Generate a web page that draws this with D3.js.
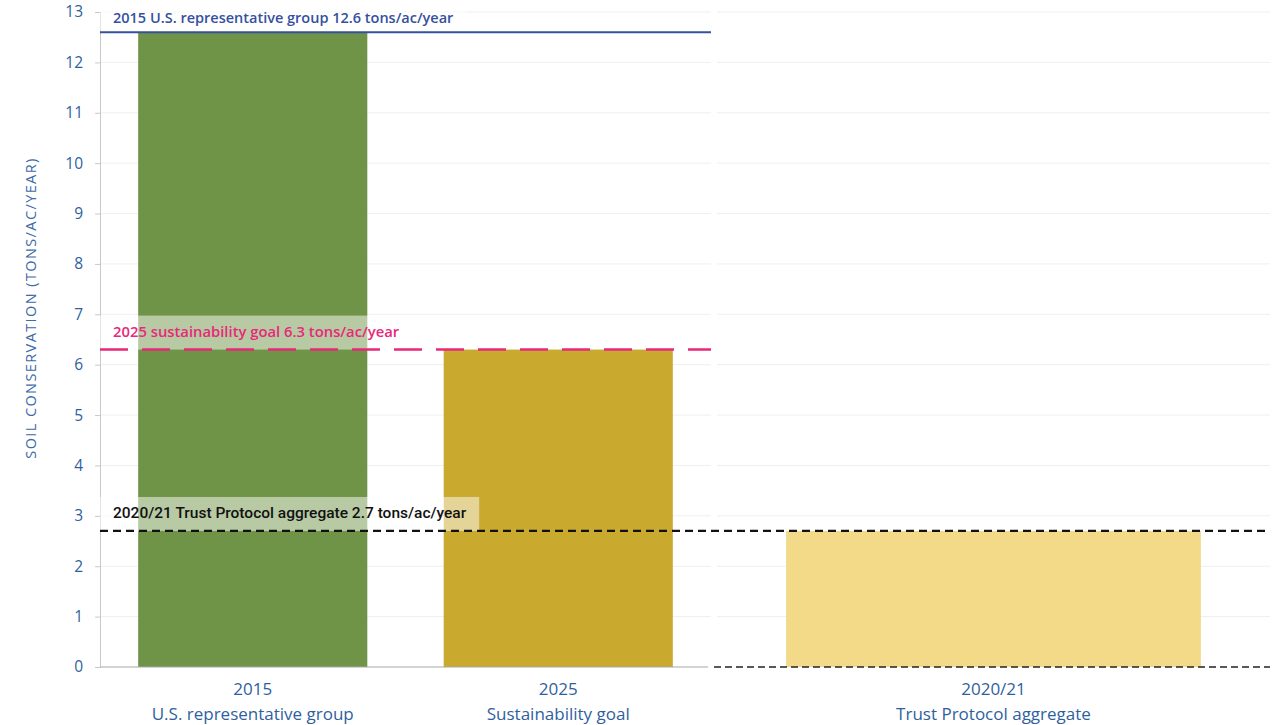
<!DOCTYPE html>
<meta charset="utf-8">
<html>
<head>
<title>Soil conservation</title>
<style>
  body { margin: 0; background: #fff; }
  svg text { font-family: "Open Sans", sans-serif; }
</style>
</head>
<body>
<svg width="1277" height="725"></svg>
<script src="https://cdn.jsdelivr.net/npm/d3@7"></script>
<script>

// data
const leftCats = ["2015", "2025"];
const leftSub = ["U.S. representative group", "Sustainability goal"];
const leftValues = [12.6, 6.3];
const leftColors = ["#6f9447", "#c9a92e"];

const rightCats = ["2020/21"];
const rightSub = ["Trust Protocol aggregate"];
const rightValues = [2.7];
const rightColors = ["#f3da88"];

const yTicks = [0, 1, 2, 3, 4, 5, 6, 7, 8, 9, 10, 11, 12, 13];

const refValues = [12.6, 6.3, 2.7];
const refLabels = [
  "2015 U.S. representative group 12.6 tons/ac/year",
  "2025 sustainability goal 6.3 tons/ac/year",
  "2020/21 Trust Protocol aggregate 2.7 tons/ac/year"
];

var svg = d3.select("svg");

var y = d3.scaleLinear().domain([0, 13]).range([667, 12]);

var xl = d3.scaleBand().domain(leftCats).range([100, 711])
  .paddingInner(0.25).paddingOuter(0.125);
var xr = d3.scaleBand().domain(rightCats).range([717, 1270])
  .paddingInner(0.25).paddingOuter(0.125);

// gridlines
var grid = svg.append("g");
yTicks.forEach(function(t) {
  if (t == 0) return;
  grid.append("line").attr("x1", 100).attr("x2", 711)
    .attr("y1", y(t)).attr("y2", y(t))
    .attr("stroke", "#efefef").attr("stroke-width", 1);
  grid.append("line").attr("x1", 717).attr("x2", 1270)
    .attr("y1", y(t)).attr("y2", y(t))
    .attr("stroke", "#efefef").attr("stroke-width", 1);
});

// y axis
var yAxis = svg.append("g").attr("transform", "translate(100,0)")
  .call(d3.axisLeft(y).tickValues(yTicks).tickSize(5).tickPadding(12).tickFormat(d3.format("d")));
yAxis.select(".domain").attr("stroke", "#c8c8c8");
yAxis.selectAll(".tick line").attr("stroke", "#c8c8c8");
yAxis.selectAll(".tick text").attr("fill", "#2f5f9e")
  .style("font-size", "15.5px").style("font-family", "Open Sans");

svg.append("text")
  .attr("transform", "translate(36,308) rotate(-90)")
  .attr("text-anchor", "middle")
  .attr("fill", "#3d6aa8")
  .style("font-size", "14.5px")
  .style("letter-spacing", "1.4px")
  .text("SOIL CONSERVATION (TONS/AC/YEAR)");

// bars
svg.append("g").selectAll("rect")
  .data(leftValues).enter().append("rect")
  .attr("x", function(d, i) { return xl(leftCats[i]); })
  .attr("width", xl.bandwidth())
  .attr("y", function(d) { return y(d); })
  .attr("height", function(d) { return y(0) - y(d); })
  .attr("fill", function(d, i) { return leftColors[i]; });

svg.append("g").selectAll("rect")
  .data(rightValues).enter().append("rect")
  .attr("x", function(d, i) { return xr(rightCats[i]); })
  .attr("width", xr.bandwidth())
  .attr("y", function(d) { return y(d); })
  .attr("height", function(d) { return y(0) - y(d); })
  .attr("fill", function(d, i) { return rightColors[i]; });

// baselines
svg.append("line").attr("x1", 100).attr("x2", 708)
  .attr("y1", y(0)).attr("y2", y(0))
  .attr("stroke", "#a8a8a8").attr("stroke-width", 1.2);
svg.append("line").attr("x1", 714).attr("x2", 1270)
  .attr("y1", y(0)).attr("y2", y(0))
  .attr("stroke", "#222").attr("stroke-width", 1.5)
  .attr("stroke-dasharray", "7,4");

// x labels
function xLabels(scale, cats, subs) {
  cats.forEach(function(c, i) {
    var cx = scale(c) + scale.bandwidth() / 2;
    var t = svg.append("text").attr("text-anchor", "middle").attr("fill", "#2f5f9e")
      .style("font-size", "17px");
    t.append("tspan").attr("x", cx).attr("y", 695).text(c);
    t.append("tspan").attr("x", cx).attr("y", 720).text(subs[i]);
  });
}
xLabels(xl, leftCats, leftSub);
xLabels(xr, rightCats, rightSub);

// reference lines with labels
var refStyles = [
  { color: "#3650a0", textColor: "#3650a0", width: 2, dash: null, x2: 711, font: "Open Sans", weight: 600, size: 14.5, off: 9 },
  { color: "#e8287a", textColor: "#e8287a", width: 2.5, dash: "28,14", x2: 711, font: "Open Sans", weight: 600, size: 14.8, off: 13 },
  { color: "#111", textColor: "#111", width: 2.2, dash: "8,5", x2: 1270, font: "Roboto", weight: 500, size: 15.5, off: 13 }
];

refValues.forEach(function(v, i) {
  var s = refStyles[i];
  var ly = y(v);
  var box = svg.append("rect");
  var txt = svg.append("text")
    .attr("x", 113).attr("y", ly - s.off)
    .attr("fill", s.textColor)
    .style("font-family", s.font)
    .style("font-weight", s.weight)
    .style("font-size", s.size + "px")
    .text(refLabels[i]);
  var w = txt.node().getComputedTextLength();
  box.attr("x", 100).attr("y", ly - 34).attr("width", w + 26).attr("height", 34)
    .attr("fill", "#fff").attr("fill-opacity", 0.5);
  svg.append("line")
    .attr("x1", 100).attr("x2", s.x2)
    .attr("y1", ly).attr("y2", ly)
    .attr("stroke", s.color).attr("stroke-width", s.width)
    .attr("stroke-dasharray", s.dash);
  txt.raise();
});

</script>
</body>
</html>
